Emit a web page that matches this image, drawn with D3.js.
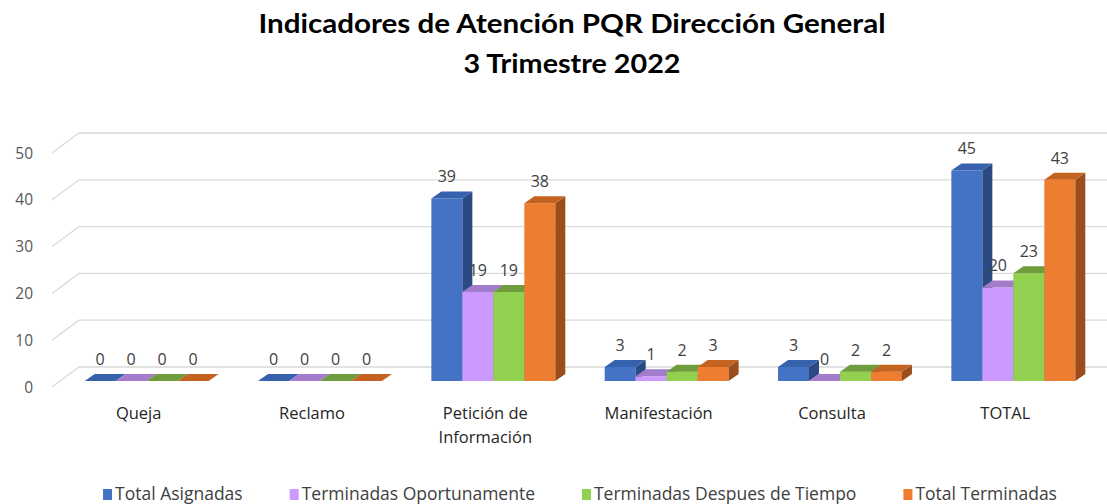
<!DOCTYPE html>
<html><head><meta charset="utf-8">
<script src="https://cdn.jsdelivr.net/npm/d3@7"></script>
<style>html,body{margin:0;padding:0;background:#fff;}svg{display:block;}</style>
</head><body>
<svg id="chart" width="1107" height="504"></svg>
<script>
const titleLines = ["Indicadores de Atención PQR Dirección General", "3 Trimestre 2022"];
const categories = ["Queja", "Reclamo", "Petición de Información", "Manifestación", "Consulta", "TOTAL"];
const seriesNames = ["Total Asignadas", "Terminadas Oportunamente", "Terminadas Despues de Tiempo", "Total Terminadas"];
const totalAsignadas = [0, 0, 39, 3, 3, 45];
const terminadasOportunamente = [0, 0, 19, 1, 0, 20];
const terminadasDespues = [0, 0, 19, 2, 2, 23];
const totalTerminadas = [0, 0, 38, 3, 2, 43];
const yTicks = [0, 10, 20, 30, 40, 50];

const seriesValues = [totalAsignadas, terminadasOportunamente, terminadasDespues, totalTerminadas];
const faceColors = [
  {front: "#4472C4", top: "#3561ad", side: "#2b4a83"},
  {front: "#CC99FF", top: "#a47ccc", side: "#8a62b5"},
  {front: "#92D050", top: "#6f9c3c", side: "#5c8530"},
  {front: "#ED7D31", top: "#c3631f", side: "#9b4d1b"}
];

const svg = d3.select("#chart");
const W = 1107;

// title
const titleWidths = [627, 217];
svg.append("g").selectAll("text").data(titleLines).join("text")
  .attr("x", 572).attr("y", (d, i) => 33 + i * 40)
  .attr("text-anchor", "middle")
  .attr("font-family", "Lato, 'Open Sans', sans-serif")
  .attr("font-weight", "bold").attr("font-size", 27)
  .attr("fill", "#000")
  .attr("textLength", (d, i) => titleWidths[i])
  .attr("lengthAdjust", "spacingAndGlyphs")
  .text(d => d);

// scales (bar front plane)
const x0 = d3.scaleBand().domain(categories).range([60, 1100]).paddingInner(0.285).paddingOuter(0.1425);
const x1 = d3.scaleBand().domain(seriesNames).range([0, x0.bandwidth()]);
const y = d3.scaleLinear().domain([0, 50]).range([381, 147]);

const back = {dx: 19, dy: -14};   // back wall relative to bar front plane
const front = {dx: -8, dy: 6};    // floor front edge relative to bar front plane
const depth = {dx: 10, dy: -7};   // bar depth

// gridlines
const grid = svg.append("g").attr("stroke", "#d9d9d9").attr("stroke-width", 1.3).attr("fill", "none");
yTicks.forEach(t => {
  const yb = y(t) + back.dy, yf = y(t) + front.dy;
  const xb = x0.range()[0] + back.dx, xf = x0.range()[0] + front.dx;
  grid.append("path").attr("d", `M${xf},${yf}L${xb},${yb}L${W + 5},${yb}`);
});

// y tick labels
svg.append("g").selectAll("text").data(yTicks).join("text")
  .attr("x", 33).attr("y", d => y(d) + front.dy)
  .attr("dy", "0.36em")
  .attr("text-anchor", "end")
  .attr("font-family", "'Open Sans', sans-serif").attr("font-size", 15.5)
  .attr("fill", "#595959")
  .text(d => d);

// bars
const barsG = svg.append("g");
categories.forEach((cat, ci) => {
  seriesNames.forEach((s, si) => {
    const v = seriesValues[si][ci];
    const xl = x0(cat) + x1(s), xr = xl + x1.bandwidth();
    const yt = y(v), yb = y(0);
    const c = faceColors[si];
    const g = barsG.append("g");
    g.append("path").attr("fill", c.front)
      .attr("d", `M${xl},${yb}L${xl},${yt}L${xr},${yt}L${xr},${yb}Z`);
    g.append("path").attr("fill", c.side)
      .attr("d", `M${xr},${yb}L${xr},${yt}L${xr + depth.dx},${yt + depth.dy}L${xr + depth.dx},${yb + depth.dy}Z`);
    g.append("path").attr("fill", c.top)
      .attr("d", `M${xl},${yt}L${xl + depth.dx},${yt + depth.dy}L${xr + depth.dx},${yt + depth.dy}L${xr},${yt}Z`);
  });
});

// data labels
const labelsG = svg.append("g")
  .attr("font-family", "'Open Sans', sans-serif").attr("font-size", 16)
  .attr("fill", "#404040").attr("text-anchor", "middle");
categories.forEach((cat, ci) => {
  seriesNames.forEach((s, si) => {
    const v = seriesValues[si][ci];
    labelsG.append("text")
      .attr("x", x0(cat) + x1(s) + x1.bandwidth() / 2)
      .attr("y", y(v) - 16)
      .text(v);
  });
});

// category labels
const catG = svg.append("g")
  .attr("font-family", "'Open Sans', sans-serif").attr("font-size", 16.5)
  .attr("fill", "#262626").attr("text-anchor", "middle");
categories.forEach(cat => {
  const t = catG.append("text")
    .attr("x", x0(cat) + x0.bandwidth() / 2 + front.dx)
    .attr("y", 419);
  const words = cat.split(" ");
  let line = [];
  let tspan = t.append("tspan").attr("x", t.attr("x")).attr("dy", 0);
  words.forEach(w => {
    line.push(w);
    tspan.text(line.join(" "));
    if (tspan.node().getComputedTextLength() > 125 && line.length > 1) {
      line.pop();
      tspan.text(line.join(" "));
      line = [w];
      tspan = t.append("tspan").attr("x", t.attr("x")).attr("dy", 24).text(w);
    }
  });
});

// legend
const legend = svg.append("g")
  .attr("font-family", "'Open Sans', sans-serif").attr("font-size", 17.5)
  .attr("fill", "#404040");
const items = [];
seriesNames.forEach((s, i) => {
  const g = legend.append("g");
  g.append("rect").attr("x", 0).attr("y", -11).attr("width", 9).attr("height", 11).attr("fill", faceColors[i].front);
  const tx = g.append("text").attr("x", 12).attr("y", 0).text(s);
  const w = 12 + tx.node().getComputedTextLength();
  items.push({g, w});
});
const gap = 47;
const total = d3.sum(items, d => d.w) + gap * (items.length - 1);
let pos = 580 - total / 2;
items.forEach(it => {
  it.g.attr("transform", `translate(${pos},500)`);
  pos += it.w + gap;
});
</script>
</body></html>
